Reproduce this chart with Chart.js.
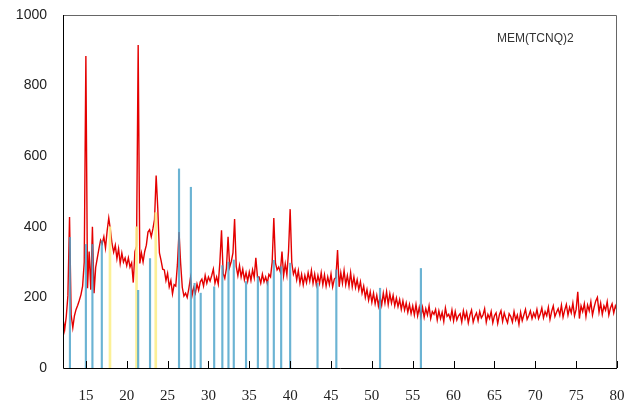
<!DOCTYPE html>
<html>
<head>
<meta charset="utf-8">
<script src="https://cdn.jsdelivr.net/npm/chart.js@4.4.0/dist/chart.umd.min.js"></script>
<style>
  body { margin: 0; background: #fff; }
  #wrap { width: 630px; height: 404px; }
</style>
</head>
<body>
<div id="wrap"><canvas id="xrd"></canvas></div>
<script>
// scan grid: 12.2 .. 80.0 deg, step 0.2
const scanStart = 12.2;
const scanStep = 0.2;

// intensity, one row = 2 degrees (row start in comment)
const counts = [
  140, 108, 146, 205, 428, 150, 114, 148, 166, 178, // 12.2
  192, 208, 232, 300, 884, 226, 330, 222, 400, 212, // 14.2
  285, 312, 338, 362, 352, 372, 340, 388, 425, 392, // 16.2
  352, 328, 348, 310, 338, 296, 326, 300, 312, 290, // 18.2
  312, 286, 298, 242, 330, 345, 915, 296, 326, 300, // 20.2
  330, 348, 385, 392, 372, 394, 420, 545, 452, 326, // 22.2
  305, 280, 278, 248, 268, 230, 248, 210, 236, 232, // 24.2
  292, 385, 295, 228, 204, 212, 200, 225, 255, 206, // 26.2
  228, 212, 238, 220, 244, 252, 232, 262, 240, 258, // 28.2
  246, 262, 280, 240, 258, 238, 300, 390, 268, 254, // 30.2
  282, 372, 286, 302, 326, 422, 288, 262, 290, 258, // 32.2
  280, 250, 270, 246, 272, 248, 278, 256, 312, 258, // 34.2
  258, 240, 266, 244, 258, 240, 265, 258, 300, 425, // 36.2
  298, 278, 286, 272, 330, 262, 295, 264, 330, 450, // 38.2
  298, 266, 280, 250, 276, 240, 265, 236, 262, 242, // 40.2
  270, 246, 276, 240, 266, 236, 262, 240, 270, 236, // 42.2
  264, 232, 258, 236, 266, 230, 252, 256, 334, 230, // 44.2
  270, 240, 276, 236, 262, 232, 270, 230, 258, 228, // 46.2
  250, 222, 244, 212, 232, 200, 222, 192, 216, 186, // 48.2
  212, 182, 206, 176, 202, 178, 212, 184, 216, 180, // 50.2
  210, 184, 206, 176, 198, 174, 194, 166, 190, 164, // 52.2
  184, 158, 180, 154, 176, 150, 180, 148, 172, 146, // 54.2
  172, 144, 168, 150, 176, 140, 160, 152, 166, 136, // 56.2
  162, 140, 158, 132, 170, 146, 152, 138, 164, 134, // 58.2
  160, 136, 148, 154, 130, 162, 140, 158, 128, 150, // 60.2
  164, 130, 146, 156, 134, 160, 142, 150, 168, 130, // 62.2
  152, 140, 160, 128, 148, 156, 126, 150, 162, 132, // 64.2
  156, 140, 128, 154, 146, 130, 160, 136, 150, 124, // 66.2
  158, 134, 150, 166, 138, 148, 162, 140, 156, 144, // 68.2
  166, 140, 152, 170, 142, 160, 148, 172, 138, 160, // 70.2
  176, 146, 158, 168, 150, 178, 144, 164, 180, 150, // 72.2
  172, 156, 184, 148, 166, 216, 140, 176, 160, 182, // 74.2
  146, 178, 162, 188, 150, 172, 190, 200, 158, 184, // 76.2
  152, 176, 164, 188, 150, 170, 182, 156, 176, 164  // 78.2
];

// reference pattern sticks
const blueAngles  = [13.05, 15.0, 15.8, 16.95, 21.4, 22.85, 26.4, 27.85, 28.3, 29.05, 30.7, 31.7,
                     32.45, 33.1, 34.6, 36.05, 37.25, 38.0, 38.9, 40.0, 43.35, 45.65, 51.0, 56.0];
const blueHeights = [370, 350, 350, 360, 220, 310, 564, 512, 240, 212, 230, 290,
                     300, 306, 245, 259, 245, 305, 287, 297, 240, 278, 226, 282];
const yellowAngles  = [17.95, 21.2, 23.55];
const yellowHeights = [400, 400, 440];

const xTicks = [15, 20, 25, 30, 35, 40, 45, 50, 55, 60, 65, 70, 75, 80];
const sampleName = 'MEM(TCNQ)2';

const profile = counts.map((c, i) => ({ x: +(scanStart + i * scanStep).toFixed(1), y: c }));
const blueSticks = blueAngles.map((a, i) => ({ x: a, y: blueHeights[i] }));
const yellowSticks = yellowAngles.map((a, i) => ({ x: a, y: yellowHeights[i] }));

// keep the plot box where the reference has it
function noEdgePadding(axis) {
    axis.paddingTop = 0;
    axis.paddingBottom = 0;
    axis.paddingLeft = 0;
    axis.paddingRight = 0;
}

// frame, inner x ticks and sample label
const frame = {
    id: 'frame',
    afterDraw(chart) {
        const { ctx, chartArea: a, scales: { x } } = chart;
        ctx.save();
        ctx.lineWidth = 1;
        ctx.strokeStyle = '#666';
        ctx.beginPath();
        ctx.moveTo(a.left, a.top + 0.5);
        ctx.lineTo(a.right - 0.5, a.top + 0.5);
        ctx.lineTo(a.right - 0.5, a.bottom);
        ctx.stroke();

        ctx.strokeStyle = '#000';
        ctx.beginPath();
        ctx.moveTo(a.left + 0.5, a.top);
        ctx.lineTo(a.left + 0.5, a.bottom + 0.5);
        ctx.lineTo(a.right, a.bottom + 0.5);
        xTicks.forEach(v => {
            const px = Math.round(x.getPixelForValue(v)) + 0.5;
            ctx.moveTo(px, a.bottom);
            ctx.lineTo(px, a.bottom - 7);
        });
        ctx.stroke();

        ctx.fillStyle = '#333';
        ctx.font = '12px "Liberation Sans", Arial, sans-serif';
        ctx.textBaseline = 'alphabetic';
        ctx.fillText(sampleName, 497, 42);
        ctx.restore();
    }
};

const ctx = document.getElementById('xrd').getContext('2d');
const chart = new Chart(ctx, {
    type: 'bar',
    data: {
        datasets: [{
            type: 'bar',
            data: blueSticks,
            backgroundColor: 'rgba(70, 160, 200, 0.8)',
            barThickness: 1.5,
            grouped: false,
            order: 0
        }, {
            type: 'bar',
            data: yellowSticks,
            backgroundColor: 'rgba(252, 238, 140, 0.9)',
            barThickness: 2,
            grouped: false,
            order: 0
        }, {
            type: 'line',
            data: profile,
            borderColor: 'rgb(228, 0, 0)',
            borderWidth: 1.4,
            pointRadius: 0,
            tension: 0,
            fill: false,
            order: 1
        }]
    },
    options: {
        responsive: true,
        maintainAspectRatio: false,
        animation: false,
        layout: { padding: { top: 15, right: 13, left: 0, bottom: 0 } },
        plugins: { legend: { display: false }, tooltip: { enabled: false } },
        scales: {
            x: {
                type: 'linear',
                min: 12.2,
                max: 80,
                offset: false,
                grid: { display: false, drawTicks: false },
                border: { display: false },
                afterBuildTicks: axis => { axis.ticks = xTicks.map(v => ({ value: v })); },
                afterFit: axis => { axis.height = 36; noEdgePadding(axis); },
                ticks: {
                    padding: 19,
                    maxRotation: 0,
                    autoSkip: false,
                    color: '#222',
                    callback: v => String(v),
                    font: { family: '"Liberation Serif", "Times New Roman", serif', size: 15 }
                }
            },
            y: {
                min: 0,
                max: 1000,
                grid: { display: false, drawTicks: false },
                border: { display: false },
                afterFit: axis => { axis.width = 63; noEdgePadding(axis); },
                ticks: {
                    stepSize: 200,
                    padding: 16,
                    color: '#222',
                    callback: v => String(v),
                    font: { family: '"Liberation Sans", Arial, sans-serif', size: 14 }
                }
            }
        }
    },
    plugins: [frame]
});
</script>
</body>
</html>
